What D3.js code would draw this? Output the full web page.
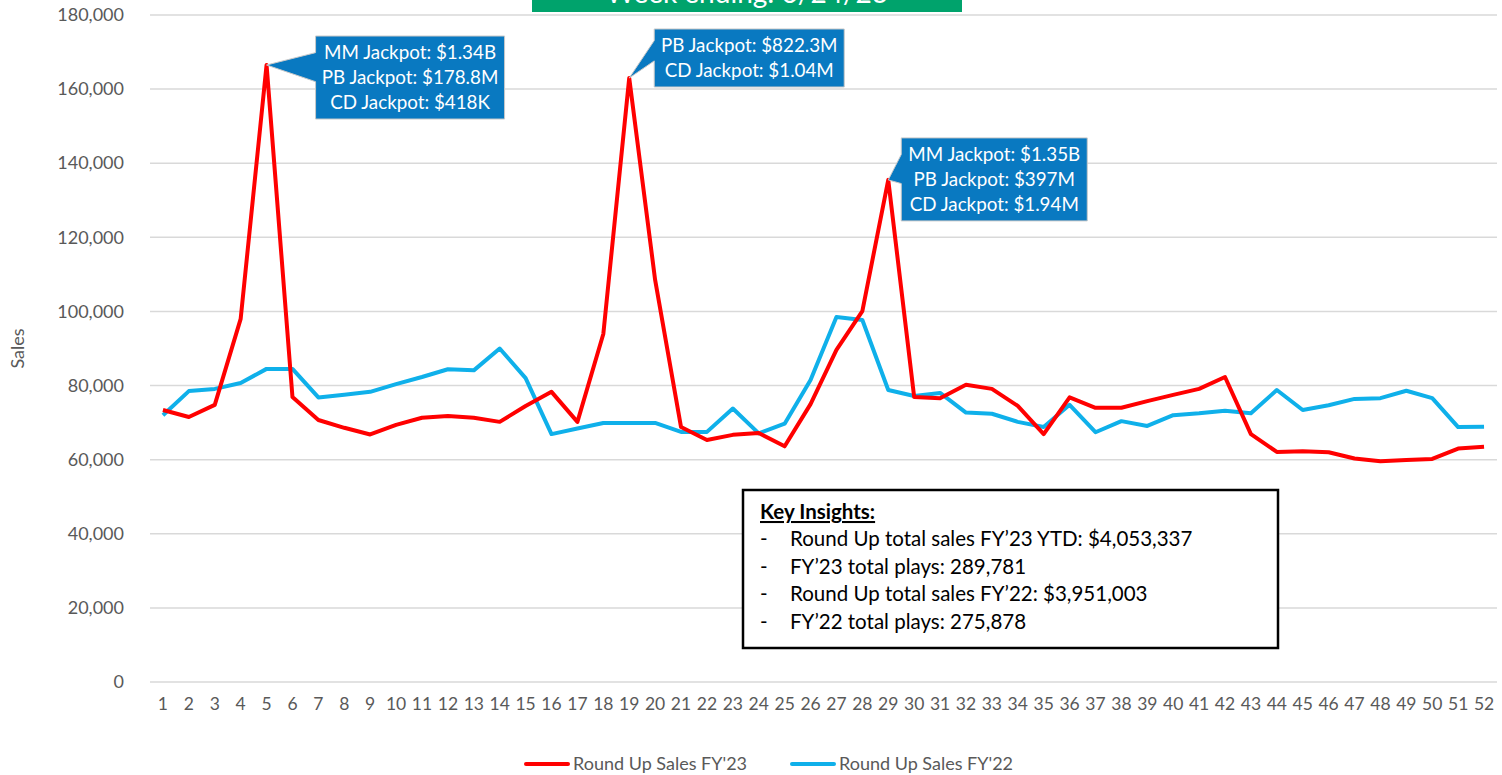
<!DOCTYPE html>
<html>
<head>
<meta charset="utf-8">
<script src="https://cdn.jsdelivr.net/npm/d3@7"></script>
<style>
  body { margin: 0; background: #fff; }
  svg { display: block; font-family: Lato, "Open Sans", sans-serif; }
</style>
</head>
<body>
<script>
(function() {
  const weeks = d3.range(1, 53);
  const sales23 = [
    73400, 71500, 74800, 98000, 166500, 76900, 70700, 68600, 66800, 69400,
    71300, 71800, 71300, 70200, 74500, 78300, 70200, 93900, 163000, 108500,
    68800, 65300, 66700, 67200, 63600, 75000, 89600, 100100, 135500, 76900,
    76600, 80200, 79100, 74500, 66900, 76800, 74000, 74000, 75800, 77500,
    79100, 82300, 66900, 62100, 62300, 62000, 60300, 59600, 59900, 60200,
    63000, 63500
  ];
  const sales22 = [
    72000, 78500, 79100, 80700, 84500, 84500, 76800, 77500, 78300, 80400,
    82300, 84400, 84100, 90000, 82000, 66900, 68400, 69900, 69900, 69900,
    67500, 67500, 73800, 67100, 69700, 81500, 98500, 97700, 78800, 77200,
    78000, 72700, 72400, 70200, 68800, 74800, 67400, 70400, 69100, 72000,
    72500, 73200, 72500, 78800, 73400, 74700, 76400, 76600, 78600, 76600,
    68800, 68900
  ];
  const yTicks = [0, 20000, 40000, 60000, 80000, 100000, 120000, 140000, 160000, 180000];
  const seriesNames = ["Round Up Sales FY'23", "Round Up Sales FY'22"];
  const seriesColors = ['#ff0000', '#0fb0ea'];
  const callouts = [
    { week: 5, lines: ['MM Jackpot: $1.34B', 'PB Jackpot: $178.8M', 'CD Jackpot: $418K'], dx: 49, dy: -29, w: 189 },
    { week: 19, lines: ['PB Jackpot: $822.3M', 'CD Jackpot: $1.04M'], dx: 25, dy: -49, w: 190 },
    { week: 29, lines: ['MM Jackpot: $1.35B', 'PB Jackpot: $397M', 'CD Jackpot: $1.94M'], dx: 13, dy: -42, w: 186 }
  ];
  const insights = [
    'Round Up total sales FY\u201923 YTD: $4,053,337',
    'FY\u201923 total plays: 289,781',
    'Round Up total sales FY\u201922: $3,951,003',
    'FY\u201922 total plays: 275,878'
  ];
  const title = 'Week ending: 6/24/23';

  const width = 1502;
  const height = 775;
  const left = 150, right = 1497, top = 15, bottom = 682;

  const svg = d3.select('body').append('svg').attr('width', width).attr('height', height);

  const x = d3.scaleBand().domain(weeks).range([left, right]);
  const y = d3.scaleLinear().domain([0, 180000]).range([bottom, top]);
  const cx = function(w) { return x(w) + x.bandwidth() / 2; };

  // gridlines
  svg.append('g')
    .selectAll('line')
    .data(yTicks)
    .enter()
    .append('line')
    .attr('x1', left).attr('x2', right)
    .attr('y1', function(d) { return y(d); })
    .attr('y2', function(d) { return y(d); })
    .attr('stroke', '#d9d9d9')
    .attr('stroke-width', 1.5);

  // y axis labels
  const yAxis = svg.append('g')
    .attr('transform', 'translate(' + (left - 23) + ',0)')
    .call(d3.axisLeft(y).tickValues(yTicks).tickFormat(d3.format(',')).tickSize(0));
  yAxis.select('.domain').remove();
  yAxis.selectAll('text').attr('font-size', 18).attr('fill', '#595959').attr('font-family', 'Lato, sans-serif');

  // x axis labels
  const xAxis = svg.append('g')
    .attr('transform', 'translate(0,' + (bottom + 13) + ')')
    .call(d3.axisBottom(x).tickSize(0));
  xAxis.select('.domain').remove();
  xAxis.selectAll('text').attr('font-size', 17.5).attr('fill', '#595959').attr('font-family', 'Lato, sans-serif');

  svg.append('text')
    .attr('transform', 'translate(24,' + ((top + bottom) / 2) + ') rotate(-90)')
    .attr('text-anchor', 'middle')
    .attr('font-size', 18)
    .attr('fill', '#595959')
    .text('Sales');

  // title box (cropped at top, as in the source)
  svg.append('rect').attr('x', 532).attr('y', -30).attr('width', 430).attr('height', 42).attr('fill', '#00a36c');
  svg.append('text')
    .attr('x', 747).attr('y', 3)
    .attr('text-anchor', 'middle')
    .attr('font-size', 28)
    .attr('fill', '#fff')
    .text(title);

  // lines
  const line = d3.line()
    .x(function(d, i) { return cx(weeks[i]); })
    .y(function(d) { return y(d); });

  [sales22, sales23].forEach(function(s, k) {
    svg.append('path')
      .datum(s)
      .attr('fill', 'none')
      .attr('stroke', k === 0 ? seriesColors[1] : seriesColors[0])
      .attr('stroke-width', 4)
      .attr('stroke-linejoin', 'round')
      .attr('d', line);
  });

  // callouts
  callouts.forEach(function(c) {
    const px = cx(c.week);
    const py = y(sales23[c.week - 1]);
    const bx = px + c.dx;
    const by = py + c.dy;
    const bh = c.lines.length * 25 + 8;
    const g = svg.append('g');
    const wy1 = by + bh * 0.2;
    const wy2 = by + bh * 0.55;
    g.append('path')
      .attr('d', 'M' + bx + ',' + by + 'H' + (bx + c.w) + 'V' + (by + bh) + 'H' + bx +
        'V' + wy2 + 'L' + px + ',' + py + 'L' + bx + ',' + wy1 + 'Z')
      .attr('fill', '#0979c1')
      .attr('stroke', '#c9c9c9')
      .attr('stroke-width', 1);
    c.lines.forEach(function(t, i) {
      g.append('text')
        .attr('x', bx + c.w / 2)
        .attr('y', by + 23 + i * 25)
        .attr('text-anchor', 'middle')
        .attr('font-size', 18.8)
        .attr('fill', '#fff')
        .text(t);
    });
  });

  // key insights box
  const ib = svg.append('g');
  ib.append('rect').attr('x', 743).attr('y', 490).attr('width', 535).attr('height', 158)
    .attr('fill', '#fff').attr('stroke', '#000').attr('stroke-width', 2.5);
  ib.append('text').attr('x', 760).attr('y', 519)
    .attr('font-size', 20.5).attr('font-weight', 'bold').attr('text-decoration', 'underline')
    .attr('fill', '#000').text('Key Insights:');
  insights.forEach(function(t, i) {
    ib.append('text').attr('x', 760).attr('y', 546 + i * 27.5)
      .attr('font-size', 20.5).attr('fill', '#000').text('-');
    ib.append('text').attr('x', 790).attr('y', 546 + i * 27.5)
      .attr('font-size', 20.5).attr('fill', '#000').text(t);
  });

  // legend
  const legendX = [526, 792];
  seriesNames.forEach(function(n, i) {
    const lg = svg.append('g').attr('transform', 'translate(' + legendX[i] + ',764)');
    lg.append('line').attr('x1', 0).attr('x2', 42).attr('y1', 0).attr('y2', 0)
      .attr('stroke', seriesColors[i]).attr('stroke-width', 4).attr('stroke-linecap', 'round');
    lg.append('text').attr('x', 47).attr('y', 6).attr('font-size', 18).attr('fill', '#595959').text(n);
  });
})();
</script>
</body>
</html>
